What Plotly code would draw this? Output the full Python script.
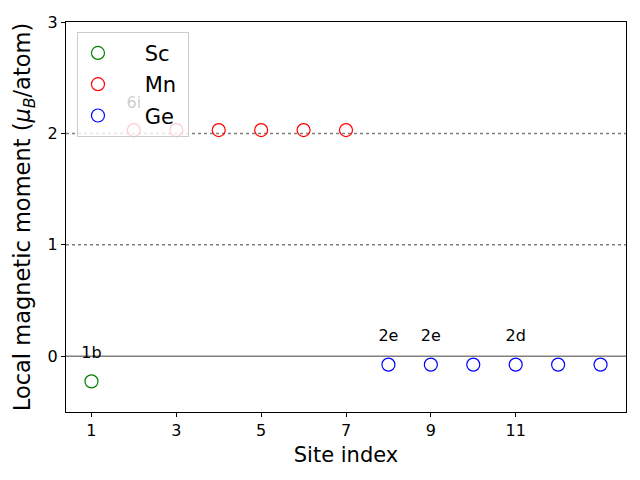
import plotly.graph_objects as go

# Data
sc_x = [1]
sc_y = [-0.225]
mn_x = [2, 3, 4, 5, 6, 7]
mn_y = [2.03, 2.03, 2.03, 2.03, 2.03, 2.03]
ge_x = [8, 9, 10, 11, 12, 13]
ge_y = [-0.075, -0.075, -0.075, -0.075, -0.075, -0.075]

label_x = [1, 2, 8, 9, 11]
label_y = [0.02, 2.26, 0.17, 0.17, 0.17]
label_text = ["1b", "6i", "2e", "2e", "2d"]

dotted_lines = [1, 2]
solid_lines = [0]

x_ticks = [1, 3, 5, 7, 9, 11]
y_ticks = [0, 1, 2, 3]

FONT = "DejaVu Sans"

fig = go.Figure()

# Labels under the legend (text trace)
fig.add_trace(go.Scatter(
    x=label_x, y=label_y, text=label_text, mode="text",
    textfont=dict(family=FONT, size=16, color="black"),
    showlegend=False, hoverinfo="skip"))

def add_series(x, y, color, name):
    fig.add_trace(go.Scatter(
        x=x, y=y, mode="markers",
        name="\u00a0\u00a0\u00a0\u00a0" + name + "\u00a0",
        legendgroup=name,
        marker=dict(symbol="circle-open", size=13, color=color,
                    line=dict(width=1.2, color=color))))

add_series(sc_x, sc_y, "green", "Sc")
add_series(mn_x, mn_y, "red", "Mn")
add_series(ge_x, ge_y, "blue", "Ge")

for yv in dotted_lines:
    fig.add_hline(y=yv, line=dict(color="gray", width=1.5, dash="dot"), layer="below")
for yv in solid_lines:
    fig.add_hline(y=yv, line=dict(color="gray", width=1.5), layer="below")

fig.update_layout(
    width=640, height=480,
    margin=dict(l=66, r=14, t=22, b=68),
    plot_bgcolor="white", paper_bgcolor="white",
    font=dict(family=FONT, color="black"),
    showlegend=True,
    legend=dict(x=0.0196, y=0.975, xanchor="left", yanchor="top",
                bgcolor="rgba(255,255,255,0.8)", bordercolor="#cccccc", borderwidth=1,
                font=dict(family=FONT, size=21), tracegroupgap=1,
                itemsizing="trace"),
    xaxis=dict(range=[0.4, 13.6], tickvals=x_ticks, ticks="outside", ticklen=4,
               tickcolor="black", showgrid=False, zeroline=False,
               showline=True, linecolor="black", linewidth=1, mirror=True,
               tickfont=dict(size=16),
               title=dict(text="Site index", font=dict(size=21), standoff=8)),
    yaxis=dict(range=[-0.5, 3], tickvals=y_ticks, ticks="outside", ticklen=4,
               tickcolor="black", showgrid=False, zeroline=False,
               showline=True, linecolor="black", linewidth=1, mirror=True,
               tickfont=dict(size=16),
               title=dict(text="Local magnetic moment (<i>μ</i><sub><i>B</i></sub>/atom)",
                          font=dict(size=22.5), standoff=10)),
)

fig.write_html("out.html")
